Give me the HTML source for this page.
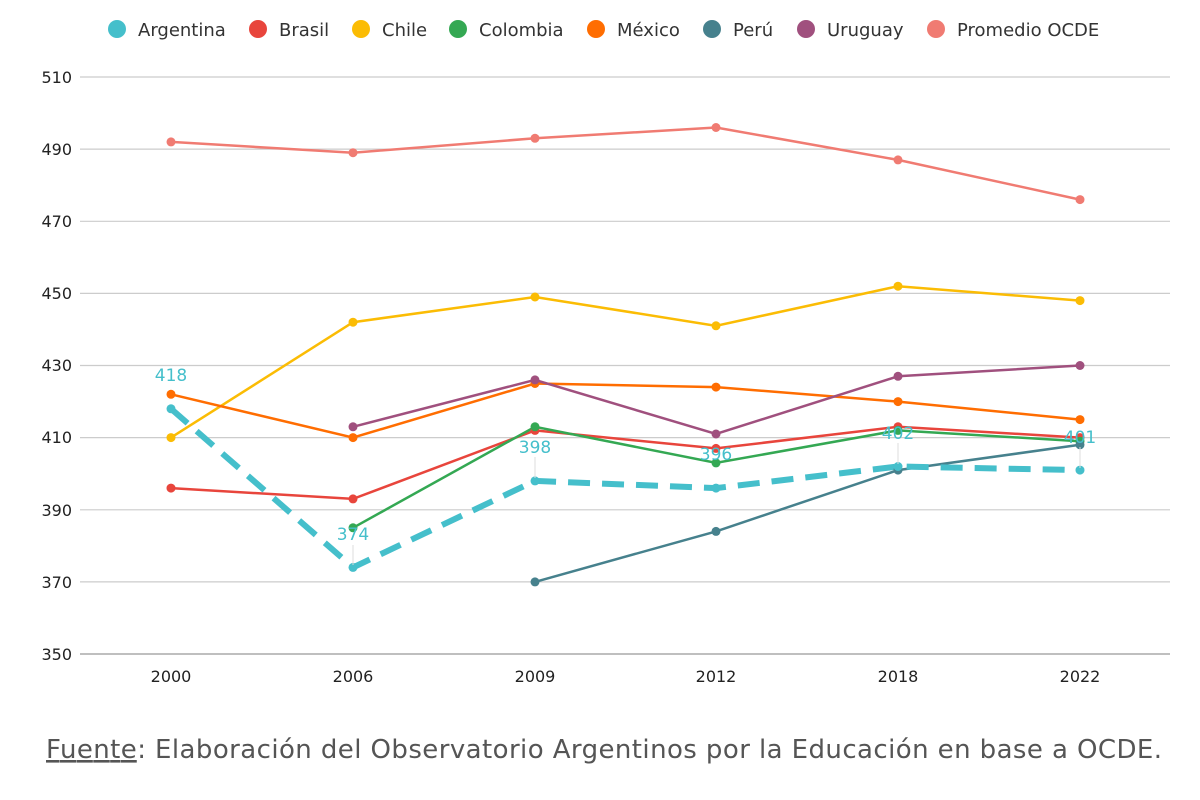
<!DOCTYPE html>
<html><head><meta charset="utf-8"><style>
body{margin:0;background:#fff;width:1200px;height:795px;overflow:hidden;font-family:"Liberation Sans","DejaVu Sans",sans-serif}
</style></head><body>
<svg width="1200" height="795" xmlns="http://www.w3.org/2000/svg" font-family="'DejaVu Sans','Liberation Sans',sans-serif">
<g font-size="18" fill="#333">
<circle cx="117" cy="29" r="9" fill="#45bfcb"/><text x="138" y="36">Argentina</text>
<circle cx="258" cy="29" r="9" fill="#e8453c"/><text x="279" y="36">Brasil</text>
<circle cx="361" cy="29" r="9" fill="#fbbc04"/><text x="382" y="36">Chile</text>
<circle cx="458" cy="29" r="9" fill="#34a853"/><text x="479" y="36">Colombia</text>
<circle cx="596" cy="29" r="9" fill="#ff6d01"/><text x="617" y="36">México</text>
<circle cx="712" cy="29" r="9" fill="#46818d"/><text x="733" y="36">Perú</text>
<circle cx="806" cy="29" r="9" fill="#a0507e"/><text x="827" y="36">Uruguay</text>
<circle cx="936" cy="29" r="9" fill="#f07b72"/><text x="957" y="36">Promedio OCDE</text>
</g>
<g stroke="#ccc" stroke-width="1.2">
<line x1="80" x2="1170" y1="77" y2="77"/><line x1="80" x2="1170" y1="149.1" y2="149.1"/>
<line x1="80" x2="1170" y1="221.3" y2="221.3"/><line x1="80" x2="1170" y1="293.4" y2="293.4"/>
<line x1="80" x2="1170" y1="365.5" y2="365.5"/><line x1="80" x2="1170" y1="437.6" y2="437.6"/>
<line x1="80" x2="1170" y1="509.8" y2="509.8"/><line x1="80" x2="1170" y1="581.9" y2="581.9"/>
<line x1="80" x2="1170" y1="654" y2="654" stroke="#999"/>
</g>
<g font-size="16" fill="#222" text-anchor="end">
<text x="72" y="83">510</text><text x="72" y="155">490</text><text x="72" y="227">470</text>
<text x="72" y="299">450</text><text x="72" y="371">430</text><text x="72" y="443">410</text>
<text x="72" y="516">390</text><text x="72" y="588">370</text><text x="72" y="660">350</text>
</g>
<g font-size="16" fill="#222" text-anchor="middle">
<text x="171" y="682">2000</text><text x="353" y="682">2006</text><text x="535" y="682">2009</text>
<text x="716" y="682">2012</text><text x="898" y="682">2018</text><text x="1080" y="682">2022</text>
</g>
<g fill="none" stroke-width="2.5">
<polyline stroke="#f07b72" points="171,141.9 353,152.7 535,138.3 716,127.5 898,159.9 1080,199.6"/>
<polyline stroke="#fbbc04" points="171,437.6 353,322.2 535,297 716,325.8 898,286.2 1080,300.6"/>
<polyline stroke="#ff6d01" points="171,394.3 353,437.6 535,383.5 716,387.1 898,401.6 1080,419.6"/>
<polyline stroke="#a0507e" points="353,426.8 535,379.9 716,434 898,376.3 1080,365.5"/>
<polyline stroke="#e8453c" points="171,488.1 353,498.9 535,430.4 716,448.4 898,426.8 1080,437.6"/>
<polyline stroke="#34a853" points="353,527.8 535,426.8 716,462.9 898,430.4 1080,441.2"/>
<polyline stroke="#46818d" points="535,581.9 716,531.4 898,470.1 1080,444.8"/>
<polyline stroke="#45bfcb" stroke-width="6" stroke-dasharray="22,12" points="171,408.8 353,567.4 535,480.9 716,488.1 898,466.5 1080,470.1"/>
</g>
<g>
<g fill="#f07b72"><circle cx="171" cy="141.9" r="4.5"/><circle cx="353" cy="152.7" r="4.5"/><circle cx="535" cy="138.3" r="4.5"/><circle cx="716" cy="127.5" r="4.5"/><circle cx="898" cy="159.9" r="4.5"/><circle cx="1080" cy="199.6" r="4.5"/></g>
<g fill="#fbbc04"><circle cx="171" cy="437.6" r="4.5"/><circle cx="353" cy="322.2" r="4.5"/><circle cx="535" cy="297" r="4.5"/><circle cx="716" cy="325.8" r="4.5"/><circle cx="898" cy="286.2" r="4.5"/><circle cx="1080" cy="300.6" r="4.5"/></g>
<g fill="#ff6d01"><circle cx="171" cy="394.3" r="4.5"/><circle cx="353" cy="437.6" r="4.5"/><circle cx="535" cy="383.5" r="4.5"/><circle cx="716" cy="387.1" r="4.5"/><circle cx="898" cy="401.6" r="4.5"/><circle cx="1080" cy="419.6" r="4.5"/></g>
<g fill="#a0507e"><circle cx="353" cy="426.8" r="4.5"/><circle cx="535" cy="379.9" r="4.5"/><circle cx="716" cy="434" r="4.5"/><circle cx="898" cy="376.3" r="4.5"/><circle cx="1080" cy="365.5" r="4.5"/></g>
<g fill="#e8453c"><circle cx="171" cy="488.1" r="4.5"/><circle cx="353" cy="498.9" r="4.5"/><circle cx="535" cy="430.4" r="4.5"/><circle cx="716" cy="448.4" r="4.5"/><circle cx="898" cy="426.8" r="4.5"/><circle cx="1080" cy="437.6" r="4.5"/></g>
<g fill="#34a853"><circle cx="353" cy="527.8" r="4.5"/><circle cx="535" cy="426.8" r="4.5"/><circle cx="716" cy="462.9" r="4.5"/><circle cx="898" cy="430.4" r="4.5"/><circle cx="1080" cy="441.2" r="4.5"/></g>
<g fill="#46818d"><circle cx="535" cy="581.9" r="4.5"/><circle cx="716" cy="531.4" r="4.5"/><circle cx="898" cy="470.1" r="4.5"/><circle cx="1080" cy="444.8" r="4.5"/></g>
<g fill="#45bfcb"><circle cx="171" cy="408.8" r="4.5"/><circle cx="353" cy="567.4" r="4.5"/><circle cx="535" cy="480.9" r="4.5"/><circle cx="716" cy="488.1" r="4.5"/><circle cx="898" cy="466.5" r="4.5"/><circle cx="1080" cy="470.1" r="4.5"/></g>
</g>
<g stroke="#ddd" stroke-width="1">
<line x1="353" y1="545" x2="353" y2="565"/><line x1="535" y1="457" x2="535" y2="478"/><line x1="898" y1="443" x2="898" y2="464"/><line x1="1080" y1="447" x2="1080" y2="468"/>
</g>
<g font-size="17" fill="#45bfcb" text-anchor="middle">
<text x="171" y="381">418</text><text x="353" y="540">374</text><text x="535" y="453">398</text>
<text x="716" y="460">396</text><text x="898" y="439">402</text><text x="1080" y="443">401</text>
</g>
<text x="46" y="758" font-size="26" fill="#555" textLength="1116" lengthAdjust="spacing" font-family="'DejaVu Sans',sans-serif"><tspan text-decoration="underline">Fuente</tspan>: Elaboración del Observatorio Argentinos por la Educación en base a OCDE.</text>
</svg>
</body></html>
